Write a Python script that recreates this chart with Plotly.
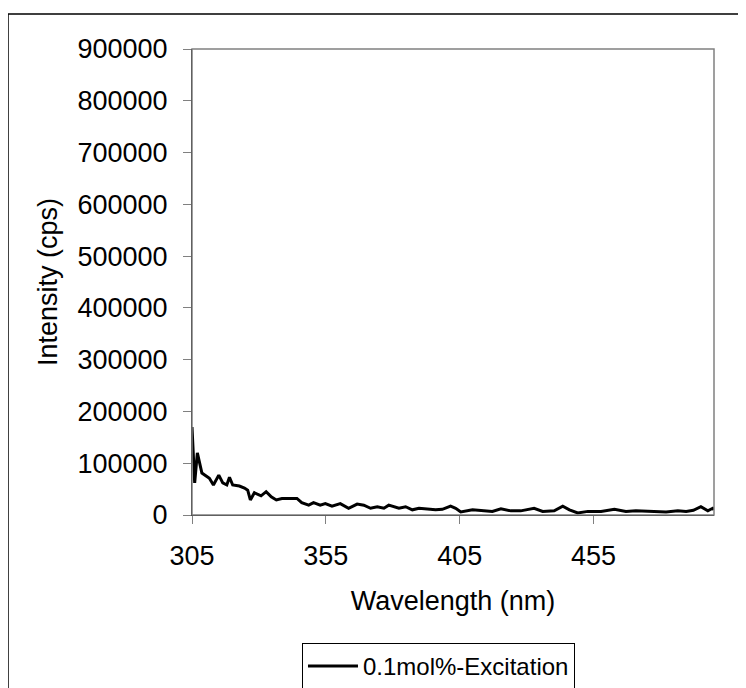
import plotly.graph_objects as go

wavelength = [305, 306, 307, 308.7, 311.5, 313, 315, 316.5, 318, 319, 320.2, 322.7, 324.6,
              325.8, 326.8, 328.3, 330.8, 332.7, 334.6, 336.5, 338.6, 344.2, 346, 348.6,
              350.4, 352.9, 354.8, 357.3, 360.4, 363.5, 366.7, 369.2, 371.7, 374.2, 376.7,
              378.5, 382.3, 384.8, 387.3, 389.8, 396, 398.5, 401.6, 403.5, 405.4, 409.8,
              417.2, 420.4, 424.1, 427.8, 432.8, 436, 440.3, 443.5, 446, 449.1, 452.9,
              457.8, 462.8, 467.1, 470.8, 475.8, 482.1, 486.5, 489.6, 492.3, 495.1, 497.7,
              499.5, 500]
intensity = [170000, 62000, 120000, 81000, 71000, 58000, 77000, 62000, 58000, 73000, 58000,
             56000, 52000, 48000, 29000, 43000, 37000, 45000, 35000, 29000, 32000, 32000,
             24000, 19000, 24000, 19000, 22000, 17000, 22000, 13000, 21000, 19000, 13000,
             16000, 13000, 19000, 13000, 16000, 10000, 13000, 10000, 11000, 17000, 13000,
             6000, 10000, 7000, 12000, 8000, 8000, 13000, 7000, 8000, 17000, 10000, 4000,
             7000, 7000, 11000, 7000, 8000, 7000, 6000, 8000, 7000, 9000, 16000, 8000,
             13000, 10000]
series_name = "0.1mol%-Excitation"
x_ticks = [305, 355, 405, 455]
y_ticks = [0, 100000, 200000, 300000, 400000, 500000, 600000, 700000, 800000, 900000]

FONT = "Liberation Sans, Arial, sans-serif"

fig = go.Figure()
fig.add_trace(go.Scatter(x=wavelength, y=intensity, mode="lines", name=series_name,
                         line=dict(color="black", width=3), showlegend=True))

fig.update_layout(
    width=746, height=688,
    margin=dict(l=184, r=40, t=41, b=181, autoexpand=False),
    paper_bgcolor="white", plot_bgcolor="white",
    font=dict(family=FONT, size=27, color="black"),
    showlegend=True,
    legend=dict(x=0.2107, y=-0.2747, xanchor="left", yanchor="top",
                bordercolor="black", borderwidth=1, font=dict(size=24),
                bgcolor="white", itemwidth=50),
    xaxis=dict(range=[305, 500], tickvals=x_ticks, ticktext=[str(v) for v in x_ticks],
               ticks="outside", ticklen=8, tickcolor="#808080", showgrid=False,
               zeroline=False, showline=True, linecolor="black", linewidth=1,
               ticklabelstandoff=9,
               title=dict(text="Wavelength (nm)", font=dict(size=27), standoff=20)),
    yaxis=dict(range=[0, 900000], tickvals=y_ticks, ticktext=[str(v) for v in y_ticks],
               ticks="outside", ticklen=8, tickcolor="#808080", showgrid=False,
               zeroline=False, showline=True, linecolor="black", linewidth=1,
               ticklabelstandoff=10,
               title=dict(text="Intensity (cps)", font=dict(size=27), standoff=12)),
    shapes=[
        dict(type="rect", xref="paper", yref="paper", x0=0, x1=1, y0=0, y1=1,
             line=dict(color="#808080", width=1.5), layer="above"),
        dict(type="rect", xref="paper", yref="paper", x0=-0.3525, x1=1.2, y0=-0.5, y1=1.0751,
             line=dict(color="black", width=1.5), layer="below"),
    ],
)

fig.write_html("out.html")
